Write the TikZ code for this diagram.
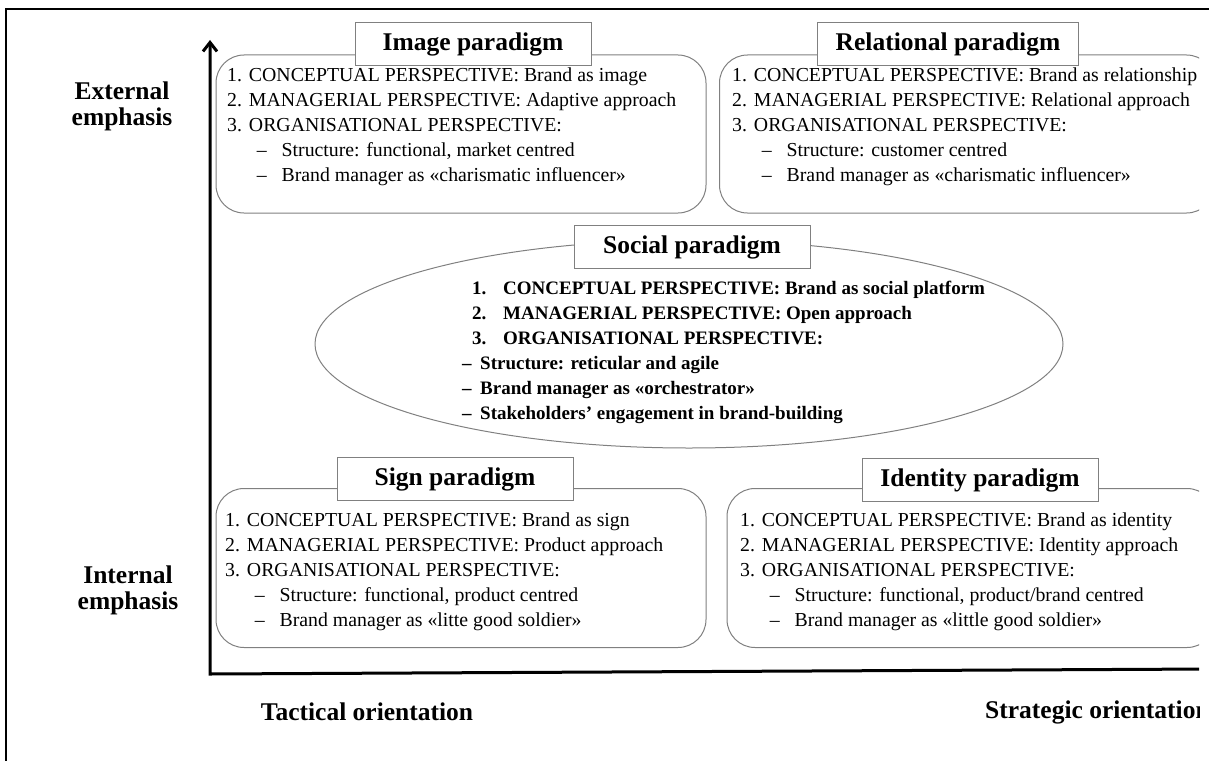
\documentclass[tikz,border=0pt]{standalone}
\usepackage{fontspec}
\setmainfont{Liberation Serif}
\usetikzlibrary{positioning, shapes.geometric, arrows.meta}

% list helpers
\newcommand{\pnum}[1]{\makebox[1.1em][l]{#1}}
\newcommand{\pdash}{\hspace*{1.5em}\makebox[1.25em][l]{\textendash}}

\begin{document}
\begin{tikzpicture}[
    x=1pt, y=-1pt,
    >={Straight Barb[length=9pt, width=14pt]},
    % Styles
    axis/.style={line width=3pt, line join=miter},
    pageframe/.style={line width=2pt},
    panel/.style={rectangle, draw=gray, line width=1pt, rounded corners=28pt},
    heading/.style={
      rectangle, draw=gray, line width=1pt, fill=white,
      minimum width=236pt, minimum height=43pt, inner xsep=18pt,
      font=\fontsize{25.5}{28}\selectfont\bfseries
    },
    sidelabel/.style={align=center, inner sep=0pt, font=\fontsize{25.5}{26}\selectfont\bfseries},
    listing/.style={anchor=north west, align=left, inner sep=0pt, font=\fontsize{19.8}{25}\selectfont},
    sociallist/.style={anchor=north west, align=left, inner sep=0pt, font=\fontsize{19}{25}\selectfont\bfseries}
  ]
  \useasboundingbox (0,0) rectangle (1209,760);
  % outer frame
  \draw[pageframe] (6,790) |- (1230,9);

  \begin{scope}
  \clip (0,0) rectangle (1199,760);
  % 1. Axes
  \coordinate (origin) at (210,674);
  \coordinate (ytop) at (210,40);
  \coordinate (xend) at (1210,669);
  \draw[axis, <-] (ytop) -- (origin) -- (xend);
  \node[sidelabel] (external) at (122,106) {External\\emphasis};
  \node[sidelabel] (internal) at (128,590) {Internal\\emphasis};
  \node[sidelabel] (tactical) at (367,712) {Tactical orientation};
  \node[sidelabel, anchor=west] (strategic) at (985,712) {Strategic orientation};

  % 2. Panels
  \node[panel, minimum width=490pt, minimum height=158pt] (imagebox) at (461,134) {};
  \node[panel, minimum width=495pt, minimum height=158pt] (relbox) at (967,134) {};
  \node[panel, minimum width=490pt, minimum height=159pt] (signbox) at (461,568) {};
  \node[panel, minimum width=488pt, minimum height=159pt] (idbox) at (971,568) {};
  \node[ellipse, draw=gray, line width=1pt, minimum width=748pt, minimum height=208pt] (socialbox) at (689,344) {};

  % 3. Headings
  \node[heading] (imagetitle) at (473,44) {Image paradigm};
  \node[heading] (reltitle) at (948,44) {Relational paradigm};
  \node[heading] (socialtitle) at (692,247) {Social paradigm};
  \node[heading] (signtitle) at (455,479) {Sign paradigm};
  \node[heading] (idtitle) at (980,480) {Identity paradigm};

  % 4. Contents
  \node[listing] (imagetext) at (227,68) {%
    \pnum{1.}CONCEPTUAL PERSPECTIVE: Brand as image\\
    \pnum{2.}MANAGERIAL PERSPECTIVE: Adaptive approach\\
    \pnum{3.}ORGANISATIONAL PERSPECTIVE:\\
    \pdash Structure: functional, market centred\\
    \pdash Brand manager as «charismatic influencer»};
  \node[listing] (reltext) at (732,68) {%
    \pnum{1.}CONCEPTUAL PERSPECTIVE: Brand as relationship\\
    \pnum{2.}MANAGERIAL PERSPECTIVE: Relational approach\\
    \pnum{3.}ORGANISATIONAL PERSPECTIVE:\\
    \pdash Structure: customer centred\\
    \pdash Brand manager as «charismatic influencer»};
  \node[sociallist] (socialtext) at (462,281) {%
    \hspace*{10pt}\makebox[31pt][l]{1.}CONCEPTUAL PERSPECTIVE: Brand as social platform\\
    \hspace*{10pt}\makebox[31pt][l]{2.}MANAGERIAL PERSPECTIVE: Open approach\\
    \hspace*{10pt}\makebox[31pt][l]{3.}ORGANISATIONAL PERSPECTIVE:\\
    \makebox[18pt][l]{\textendash}Structure: reticular and agile\\
    \makebox[18pt][l]{\textendash}Brand manager as «orchestrator»\\
    \makebox[18pt][l]{\textendash}Stakeholders' engagement in brand-building};
  \node[listing] (signtext) at (225,513) {%
    \pnum{1.}CONCEPTUAL PERSPECTIVE: Brand as sign\\
    \pnum{2.}MANAGERIAL PERSPECTIVE: Product approach\\
    \pnum{3.}ORGANISATIONAL PERSPECTIVE:\\
    \pdash Structure: functional, product centred\\
    \pdash Brand manager as «litte good soldier»};
  \node[listing] (idtext) at (740,513) {%
    \pnum{1.}CONCEPTUAL PERSPECTIVE: Brand as identity\\
    \pnum{2.}MANAGERIAL PERSPECTIVE: Identity approach\\
    \pnum{3.}ORGANISATIONAL PERSPECTIVE:\\
    \pdash Structure: functional, product/brand centred\\
    \pdash Brand manager as «little good soldier»};
  \end{scope}
\end{tikzpicture}
\end{document}
